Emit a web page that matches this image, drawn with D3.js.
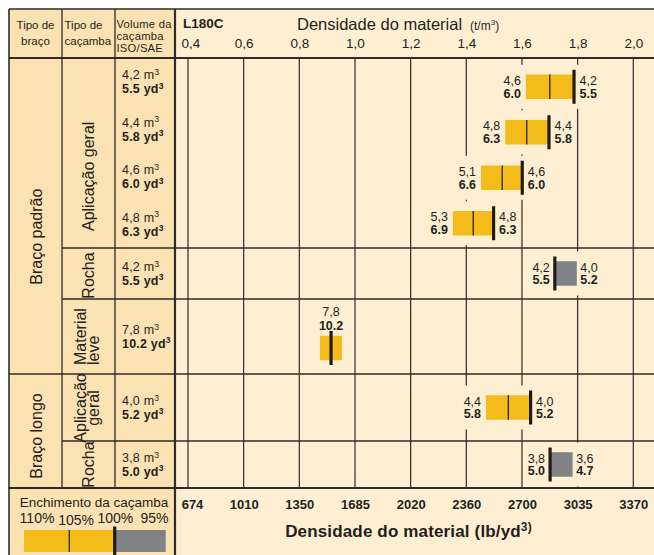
<!DOCTYPE html>
<html><head><meta charset="utf-8">
<script src="https://cdn.jsdelivr.net/npm/d3@7"></script>
<style>html,body{margin:0;padding:0;background:#fff;} svg{display:block;font-family:"Liberation Sans",Arial,Helvetica,sans-serif;}</style>
</head><body><svg id="c" width="654" height="555"></svg>
<script>
// ---------------- DATA ----------------
const densityTicks = [0.4, 0.6, 0.8, 1.0, 1.2, 1.4, 1.6, 1.8, 2.0];
const densityTickLabels = ["0,4", "0,6", "0,8", "1,0", "1,2", "1,4", "1,6", "1,8", "2,0"];
const lbTickLabels = ["674", "1010", "1350", "1685", "2020", "2360", "2700", "3035", "3370"];
const armTypes = ["Braço padrão", "Braço longo"];
const bucketTypes = [["Aplicação geral"], ["Rocha"], ["Material", "leve"], ["Aplicação", "geral"], ["Rocha"]];
const bucketArm = [0, 0, 0, 1, 1];
const rowBucket = [0, 0, 0, 0, 1, 2, 3, 4];
const volM3 = ["4,2", "4,4", "4,6", "4,8", "4,2", "7,8", "4,0", "3,8"];
const volYd3 = ["5.5", "5.8", "6.0", "6.3", "5.5", "10.2", "5.2", "5.0"];
const lowM3 = ["4,6", "4,8", "5,1", "5,3", "4,2", "7,8", "4,4", "3,8"];
const lowYd3 = ["6.0", "6.3", "6.6", "6.9", "5.5", "10.2", "5.8", "5.0"];
const highM3 = ["4,2", "4,4", "4,6", "4,8", "4,0", null, "4,0", "3,6"];
const highYd3 = ["5.5", "5.8", "6.0", "6.3", "5.2", null, "5.2", "4.7"];
const barKind = ["geral", "geral", "geral", "geral", "rocha", "leve", "geral", "rocha"];
const barFrom = [1.614, 1.540, 1.453, 1.352, 1.718, 0.874, 1.471, 1.701];
const bar105 = [1.700, 1.617, 1.529, 1.425, null, null, 1.551, null];
const bar100 = [1.787, 1.697, 1.601, 1.498, 1.718, 0.914, 1.631, 1.701];
const barTo = [1.787, 1.697, 1.601, 1.498, 1.797, 0.953, 1.631, 1.782];
const legendLabels = ["110%", "105%", "100%", "95%"];
const legendFill = [110, 105, 100, 95];

// ---------------- LAYOUT ----------------
const W = 654, H = 555;
const L = 9, T = 9, C1 = 62, C2 = 115, C3 = 175, HB = 58, BB = 488;
const bucketEdges = [58, 248, 299, 374, 441, 488];
const DARK = "#FBE2B2", LIGHT = "#FEEFD3", INK = "#231F20", LINE = "#2e2b28";
const YEL = "#F4BC1B", GRY = "#808285";
const x = d3.scaleLinear().domain([0.4, 2.0]).range([188, 633.3]);

const svg = d3.select("#c");
svg.append("rect").attr("x", 0).attr("y", 0).attr("width", W).attr("height", H).attr("fill", "#fff");
svg.append("rect").attr("x", L).attr("y", T).attr("width", C3 - L).attr("height", H - T).attr("fill", DARK);
svg.append("rect").attr("x", C3).attr("y", T).attr("width", W - C3).attr("height", H - T).attr("fill", LIGHT);

// grid
const grid = svg.append("g");
grid.selectAll("line").data(densityTicks).join("line")
  .attr("x1", d => x(d)).attr("x2", d => x(d)).attr("y1", HB).attr("y2", BB)
  .attr("stroke", LINE).attr("stroke-width", 1.2);

const bgLayer = svg.append("g");
const lineLayer = svg.append("g");
function hline(y, x1, x2, w) {
  lineLayer.append("line").attr("x1", x1).attr("x2", x2).attr("y1", y).attr("y2", y)
    .attr("stroke", LINE).attr("stroke-width", w);
}
function vline(xx, y1, y2, w) {
  lineLayer.append("line").attr("x1", xx).attr("x2", xx).attr("y1", y1).attr("y2", y2)
    .attr("stroke", LINE).attr("stroke-width", w);
}
hline(T, L, W, 1.6);
hline(HB, L, W, 1.8);
hline(BB, L, W, 1.8);
bucketEdges.slice(1, -1).forEach((e, i) => {
  const b = i + 1;
  const startsArm = bucketArm[b] !== bucketArm[b - 1];
  hline(e, startsArm ? L : C1, W, 1.4);
});
vline(L, T, H, 1.6);
vline(C1, T, BB, 1.3);
vline(C2, T, BB, 1.3);
vline(C3, T, H, 2.2);

// headers
const txt = (g, xx, yy, s, size, opts = {}) => g.append("text").attr("x", xx).attr("y", yy)
  .attr("font-size", size).attr("fill", INK).attr("text-anchor", opts.anchor || "start")
  .attr("letter-spacing", opts.ls || null)
  .attr("font-weight", opts.bold ? "bold" : "normal").text(s);
const hdr = svg.append("g");
txt(hdr, 35.5, 29, "Tipo de", 11.5, {anchor: "middle"});
txt(hdr, 35.5, 44.5, "braço", 11.5, {anchor: "middle"});
txt(hdr, 64.5, 29, "Tipo de", 11.5);
txt(hdr, 64.5, 44.5, "caçamba", 11.5);
txt(hdr, 116.5, 27.5, "Volume da", 11.2, {ls: 0.25});
txt(hdr, 116.5, 39.8, "caçamba", 11.2, {ls: 0.25});
txt(hdr, 116.5, 52, "ISO/SAE", 11.2, {ls: 0.25});
txt(hdr, 183, 28, "L180C", 13.5, {bold: true});
txt(hdr, 297, 30, "Densidade do material", 16.5);
const unit = txt(hdr, 470, 30, "(t/m", 12);
unit.append("tspan").attr("font-size", 8).attr("dy", -5).text("3");
unit.append("tspan").attr("dy", 5).text(")");

// top axis
const topAxis = svg.append("g").attr("transform", `translate(0,48)`)
  .call(d3.axisTop(x).tickValues(densityTicks).tickFormat((d, i) => densityTickLabels[i]).tickSize(0).tickPadding(0));
topAxis.select(".domain").remove();
topAxis.selectAll("text").attr("font-size", 13.5).attr("fill", INK).attr("font-family", null).attr("dy", 0).attr("y", 0);
topAxis.selectAll(".tick").filter((d, i) => i === 0).select("text").attr("dx", 2.5);

// bottom axis
const botAxis = svg.append("g").attr("transform", `translate(0,509)`)
  .call(d3.axisBottom(x).tickValues(densityTicks).tickFormat((d, i) => lbTickLabels[i]).tickSize(0).tickPadding(0));
botAxis.select(".domain").remove();
botAxis.selectAll("text").attr("font-size", 13).attr("font-weight", "bold").attr("fill", INK)
  .attr("font-family", null).attr("dy", 0).attr("y", 0);
botAxis.selectAll(".tick").filter((d, i) => i === 0).select("text").attr("dx", 4);
const bt = txt(svg, 408.5, 537, "Densidade do material (lb/yd", 17, {anchor: "middle", bold: true, ls: 0.15});
bt.append("tspan").attr("font-size", 12).attr("dy", -6).text("3)");

// arm labels (rotated)
const rot = (xx, yy, s, size, anchor) => svg.append("text")
  .attr("transform", `translate(${xx},${yy}) rotate(-90)`)
  .attr("font-size", size).attr("fill", INK).attr("text-anchor", anchor || "middle")
  .attr("dy", "0.35em").text(s);
const armY = [236.7, 436];
armTypes.forEach((a, i) => rot(36, armY[i], a, 16));

// bucket labels
bucketTypes.forEach((lines, b) => {
  const y0 = bucketEdges[b], y1 = bucketEdges[b + 1];
  let cy = (y0 + y1) / 2;
  if (b === 0) cy = 176.3;
  if (b === 1) cy = 275.5;
  if (lines.length === 1) {
    rot(88.3, cy, lines[0], 16);
  } else if (b === 2) {
    lines.forEach((s, j) => rot(80 + j * 13.3, 365, s, 16, "start"));
  } else {
    lines.forEach((s, j) => rot(80 + j * 13.3, 408, s, 16));
  }
});

// rows
const bucketRows = bucketTypes.map((_, b) => rowBucket.map((r, i) => r === b ? i : -1).filter(i => i >= 0));
const markLayer = svg.append("g");
rowBucket.forEach((b, i) => {
  const rows = bucketRows[b], k = rows.indexOf(i), n = rows.length;
  const y0 = bucketEdges[b], y1 = bucketEdges[b + 1];
  const rowMid = y0 + (k + 0.5) * (y1 - y0) / n;
  let barY = n > 1 ? (y0 + 6) + (k + 0.5) * ((y1 - 2) - (y0 + 6)) / n : rowMid;
  if (barKind[i] === "leve") barY = rowMid + 11.5;

  // volume column
  const v1 = txt(svg, 122, rowMid - 2.3, volM3[i] + " m", 12.5, {ls: 0.2});
  v1.append("tspan").attr("font-size", 8.5).attr("dy", -4.5).text("3");
  const v2 = txt(svg, 122, rowMid + 11.3, volYd3[i] + " yd", 12.5, {bold: true, ls: 0.2});
  v2.append("tspan").attr("font-size", 8.5).attr("dy", -4.5).text("3");

  const g = markLayer.append("g");
  const bh = 24.5;
  const kind = barKind[i];
  if (kind === "geral") {
    g.append("rect").attr("x", x(barFrom[i])).attr("y", barY - bh / 2)
      .attr("width", x(bar100[i]) - x(barFrom[i])).attr("height", bh).attr("fill", YEL);
    g.append("line").attr("x1", x(bar105[i])).attr("x2", x(bar105[i]))
      .attr("y1", barY - bh / 2).attr("y2", barY + bh / 2).attr("stroke", "#2a2520").attr("stroke-width", 1.3);
  } else if (kind === "rocha") {
    g.append("rect").attr("x", x(bar100[i])).attr("y", barY - bh / 2)
      .attr("width", x(barTo[i]) - x(bar100[i])).attr("height", bh).attr("fill", GRY);
  } else {
    g.append("rect").attr("x", x(barFrom[i])).attr("y", barY - bh / 2)
      .attr("width", x(barTo[i]) - x(barFrom[i])).attr("height", bh).attr("fill", YEL);
  }
  g.append("line").attr("x1", x(bar100[i])).attr("x2", x(bar100[i]))
    .attr("y1", barY - 17).attr("y2", barY + 17).attr("stroke", "#1e1b18").attr("stroke-width", 3.2);

  const fs = 12.5;
  if (kind === "leve") {
    txt(g, x(bar100[i]), barY - 31.8, lowM3[i], fs, {anchor: "middle"});
    txt(g, x(bar100[i]), barY - 18.5, lowYd3[i], fs, {anchor: "middle", bold: true});
  } else {
    const lx = kind === "geral" ? x(barFrom[i]) - 5 : x(bar100[i]) - 5;
    const rx = kind === "geral" ? x(bar100[i]) + 5.5 : x(barTo[i]) + 3.5;
    txt(g, lx, barY - 1.8, lowM3[i], fs, {anchor: "end"});
    txt(g, lx, barY + 10.8, lowYd3[i], fs, {anchor: "end", bold: true});
    txt(g, rx, barY - 1.8, highM3[i], fs);
    txt(g, rx, barY + 10.8, highYd3[i], fs, {bold: true});
    const bb = g.node().getBBox();
    bgLayer.append("rect").attr("x", bb.x - 3).attr("y", barY - 22)
      .attr("width", bb.width + 6).attr("height", 44).attr("fill", LIGHT);
  }
});

// legend
txt(svg, 94, 506.5, "Enchimento da caçamba", 13.5, {anchor: "middle"});
const lp = d3.scalePoint().domain(legendLabels).range([37, 154.5]);
legendLabels.forEach(s => txt(svg, lp(s), s === "105%" ? 525 : 523, s, 14, {anchor: "middle"}));
const lx = d3.scaleLinear().domain(legendFill).range([24, 69.3, 114.7, 165.7]);
svg.append("rect").attr("x", lx(110)).attr("y", 530).attr("width", lx(100) - lx(110)).attr("height", 22).attr("fill", YEL);
svg.append("rect").attr("x", lx(100)).attr("y", 530).attr("width", lx(95) - lx(100)).attr("height", 22).attr("fill", GRY);
svg.append("line").attr("x1", lx(105)).attr("x2", lx(105)).attr("y1", 530).attr("y2", 552).attr("stroke", "#2a2520").attr("stroke-width", 1.3);
svg.append("line").attr("x1", lx(100)).attr("x2", lx(100)).attr("y1", 526.5).attr("y2", 555).attr("stroke", "#1e1b18").attr("stroke-width", 3.2);
</script></body></html>
